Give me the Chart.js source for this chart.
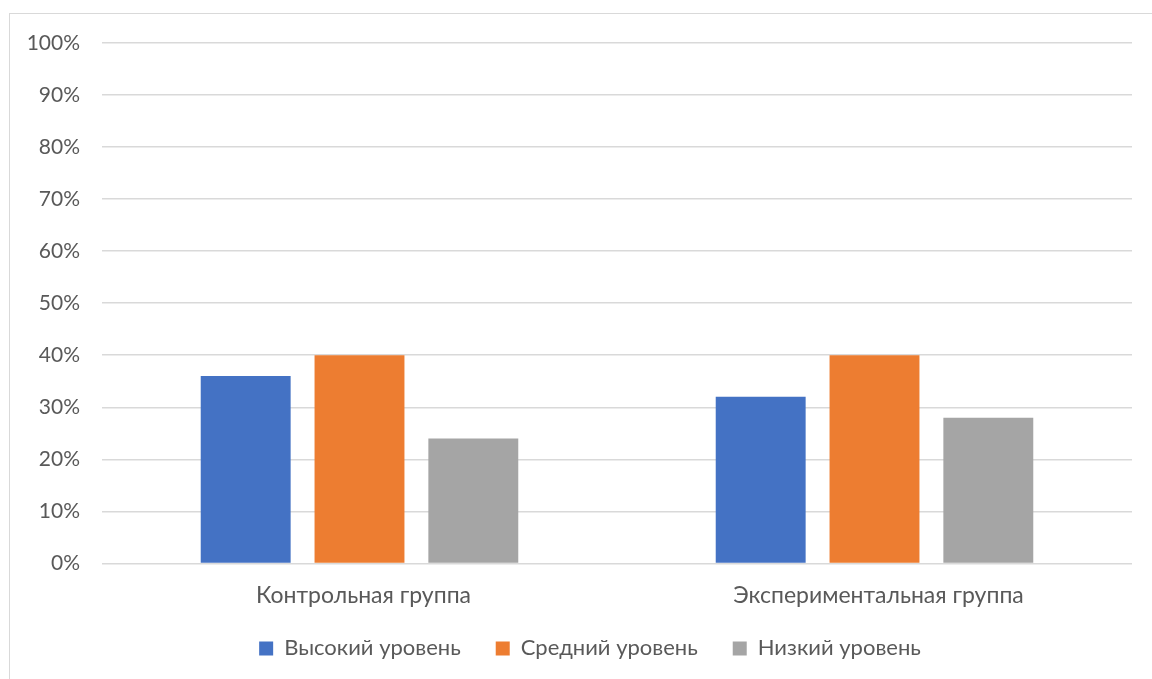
<!DOCTYPE html>
<html lang="ru">
<head>
<meta charset="utf-8">
<title>Уровни по группам</title>
<script src="https://cdn.jsdelivr.net/npm/chart.js@4.4.1/dist/chart.umd.min.js"></script>
<style>
  html, body { margin: 0; padding: 0; background: #fff; overflow: hidden; }
  #frame {
    position: absolute; left: 9px; top: 13px;
    width: 1200px; height: 720px;
    border: 1px solid #d9d9d9;
  }
  #wrap { position: absolute; left: 0; top: 0; width: 1152px; height: 679px; }
</style>
</head>
<body>
<div id="frame"></div>
<div id="wrap"><canvas id="barChart" width="1152" height="679"></canvas></div>
<script>
// группы и доли учащихся по уровням
const groups = ['Контрольная группа', 'Экспериментальная группа'];
const levelNames = ['Высокий уровень', 'Средний уровень', 'Низкий уровень'];
const highLevel = [36, 32];
const midLevel = [40, 40];
const lowLevel = [24, 28];
const levelColors = ['#4472C4', '#ED7D31', '#A5A5A5'];

const textColor = '#595959';
const gridColor = '#d9d9d9';
const fontFamily = 'Lato, "Open Sans", sans-serif';

Chart.defaults.font.family = fontFamily;
Chart.defaults.color = textColor;

// легенда: большой отступ между пунктами, но компактная высота,
// и подтягиваем её ближе к подписям оси X
const legendPlacement = {
  id: 'legendPlacement',
  afterInit(chart) {
    const legend = chart.legend;
    if (!legend) return;
    const fit = legend.fit;
    legend.fit = function () {
      fit.call(this);
      this.height = 52;
    };
  },
  afterLayout(chart) {
    const legend = chart.legend;
    if (!legend) return;
    legend.top = chart.chartArea.bottom + 39;
    legend.bottom = chart.height;
    legend.height = legend.bottom - legend.top;
    legend.left += 24;
    legend.right += 24;
  }
};

const ctx = document.getElementById('barChart').getContext('2d');
const chartInstance = new Chart(ctx, {
  type: 'bar',
  data: {
    labels: groups,
    datasets: [highLevel, midLevel, lowLevel].map((values, i) => ({
      label: levelNames[i],
      data: values,
      backgroundColor: levelColors[i],
      categoryPercentage: 0.663,
      barPercentage: 0.79
    }))
  },
  plugins: [legendPlacement],
  options: {
    responsive: false,
    animation: false,
    layout: { padding: { left: 0, right: 20, top: 43, bottom: 0 } },
    plugins: {
      legend: {
        position: 'bottom',
        labels: {
          boxWidth: 14,
          boxHeight: 14,
          padding: 35,
          font: { size: 22 },
          color: textColor
        }
      },
      tooltip: { enabled: false }
    },
    scales: {
      x: {
        grid: { display: false, drawTicks: false },
        border: { display: false },
        ticks: { font: { size: 23 }, color: textColor, padding: 18, labelOffset: 4 }
      },
      y: {
        min: 0,
        max: 100,
        grid: { color: gridColor, lineWidth: 1.5, drawTicks: false },
        border: { display: false },
        ticks: {
          stepSize: 10,
          padding: 22,
          font: { size: 21 },
          color: textColor,
          callback: (v) => v + '%'
        },
        afterFit: (scale) => { scale.width = 102; }
      }
    }
  }
});
</script>
</body>
</html>
